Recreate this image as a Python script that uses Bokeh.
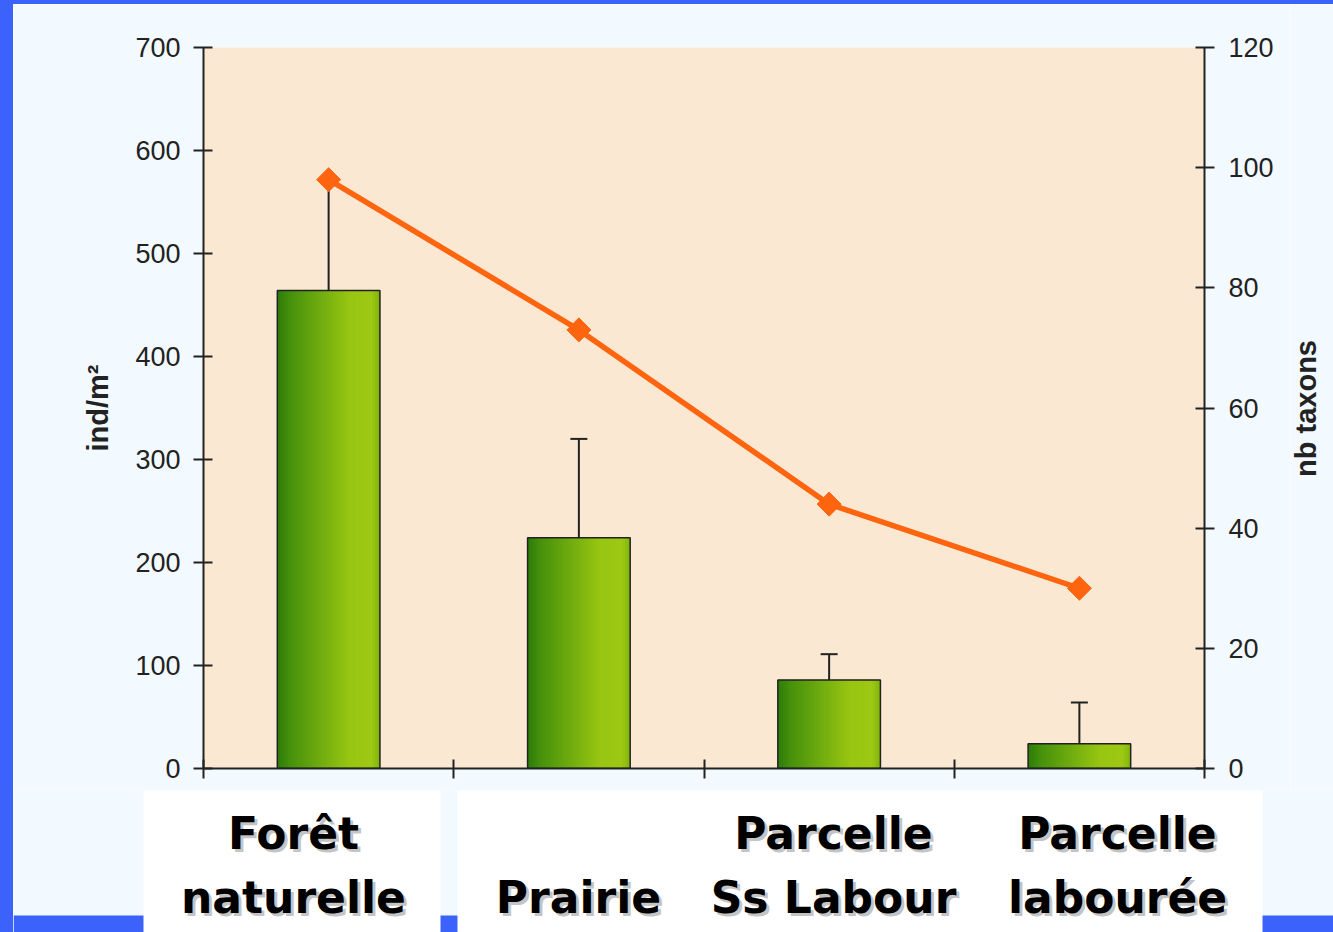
import numpy as np
from bokeh.plotting import figure
from bokeh.layouts import row, column
from bokeh.models import (Range1d, LinearAxis, FixedTicker, ColumnDataSource,
                          Whisker, TeeHead, Spacer)
from bokeh.core.properties import value
from bokeh.embed import file_html
from bokeh.resources import INLINE

# ---------------- data ----------------
categories = ["Forêt naturelle", "Prairie", "Parcelle Ss Labour", "Parcelle labourée"]
label_line1 = ["Forêt", "", "Parcelle", "Parcelle"]
label_line2 = ["naturelle", "Prairie", "Ss Labour", "labourée"]
density = [464, 224, 86, 24]            # ind/m²
density_upper = [573, 320, 111, 64]     # upper end of error bar
taxa = [98, 73, 44, 30]                 # nb taxons
left_ticks = [0, 100, 200, 300, 400, 500, 600, 700]
right_ticks = [0, 20, 40, 60, 80, 100, 120]
left_title = "ind/m²"
right_title = "nb taxons"

# ---------------- styling ----------------
BLUE = "#3b62fb"
LIGHT = "#f3faff"
BEIGE = "#fae8d3"
ORANGE = "#ff650f"
INK = "#222222"
FONT = "Liberation Sans"

p = figure(width=1277, height=786, output_backend="svg", toolbar_location=None,
           x_range=Range1d(0, len(categories)), y_range=Range1d(0, 700),
           min_border_left=190, min_border_right=86, min_border_top=43,
           min_border_bottom=22)
p.frame_align = False
p.extra_y_ranges = {"taxa": Range1d(0, 120)}
p.background_fill_color = BEIGE
p.border_fill_color = LIGHT
p.outline_line_color = None
p.grid.visible = False

x_idx = np.arange(len(categories)) + 0.5

# gradient bars made of thin slices
bar_w = 0.41
n_sl = 40
stops = [(0.0, (44, 124, 10)), (0.12, (70, 145, 12)), (0.7, (152, 198, 18)),
         (0.92, (158, 201, 20)), (1.0, (128, 180, 14))]
def grad(t):
    for (t0, c0), (t1, c1) in zip(stops[:-1], stops[1:]):
        if t0 <= t <= t1:
            f = (t - t0) / (t1 - t0)
            return "#%02x%02x%02x" % tuple(int(a + (b - a) * f) for a, b in zip(c0, c1))
    return "#%02x%02x%02x" % stops[-1][1]

sw = bar_w / n_sl
for i in range(n_sl):
    off = -bar_w / 2 + sw * (i + 0.5)
    w = sw * (1.6 if i < n_sl - 1 else 1.0)
    p.vbar(x=x_idx + off + (w - sw) / 2, top=density, width=w, bottom=0,
           fill_color=grad((i + 0.5) / n_sl), line_color=None)
p.vbar(x=x_idx, top=density, width=bar_w, bottom=0, fill_alpha=0,
       line_color=INK, line_width=1.5)

# error bars (upper only)
err_src = ColumnDataSource(dict(x=x_idx, lower=density, upper=density_upper))
p.add_layout(Whisker(base="x", lower="lower", upper="upper", source=err_src,
                     lower_head=None,
                     upper_head=TeeHead(size=17, line_color=INK, line_width=2),
                     line_color=INK, line_width=2))

# taxa line on right axis
p.line(x=x_idx, y=taxa, y_range_name="taxa", line_color=ORANGE, line_width=5.5)
p.scatter(x=x_idx, y=taxa, y_range_name="taxa", marker="square", angle=np.pi / 4,
          size=17, fill_color=ORANGE, line_color=ORANGE)

# axes
def style_axis(ax):
    ax.axis_line_color = INK
    ax.axis_line_width = 2
    ax.major_tick_line_color = INK
    ax.major_tick_line_width = 2
    ax.minor_tick_line_color = None
    ax.major_tick_in = 9
    ax.major_tick_out = 10
    ax.major_label_text_font = FONT
    ax.major_label_text_font_size = "27px"
    ax.major_label_text_color = INK
    ax.axis_label_text_font = FONT
    ax.axis_label_text_font_style = "bold"
    ax.axis_label_text_font_size = "29px"
    ax.axis_label_text_color = INK

ly = p.yaxis[0]
style_axis(ly)
ly.ticker = FixedTicker(ticks=left_ticks)
ly.axis_label = left_title
ly.major_label_standoff = 13
ly.axis_label_standoff = 18

ry = LinearAxis(y_range_name="taxa", ticker=FixedTicker(ticks=right_ticks))
style_axis(ry)
ry.major_label_standoff = 14
p.add_layout(ry, "right")

bx = p.xaxis[0]
style_axis(bx)
bx.ticker = FixedTicker(ticks=list(range(len(categories) + 1)))
bx.major_label_text_font_size = "0px"
bx.major_label_standoff = 0
bx.major_label_overrides = {i: "" for i in range(len(categories) + 1)}

# ---------------- right title strip (reads bottom to top) ----------------
r = figure(width=43, height=786, output_backend="svg", toolbar_location=None,
           x_range=Range1d(1290, 1333), y_range=Range1d(790, 4),
           min_border=0, min_border_left=0, min_border_right=0,
           min_border_top=0, min_border_bottom=0)
r.frame_align = False
r.axis.visible = False
r.grid.visible = False
r.outline_line_color = None
r.background_fill_color = LIGHT
r.border_fill_color = LIGHT
r.text(x=[1305], y=[408], text=[right_title], angle=np.pi / 2,
       text_align="center", text_baseline="middle", text_font=value(FONT),
       text_font_style="bold", text_font_size="29px", text_color=INK)

# ---------------- bottom strip with category labels (page pixel coordinates) ----------------
q = figure(width=1320, height=142, output_backend="svg", toolbar_location=None,
           x_range=Range1d(13, 1333), y_range=Range1d(932, 790),
           min_border=0, min_border_left=0, min_border_right=0,
           min_border_top=0, min_border_bottom=0)
q.frame_align = False
q.axis.visible = False
q.grid.visible = False
q.outline_line_color = None
q.background_fill_color = LIGHT
q.border_fill_color = LIGHT
q.quad(left=[13], right=[1333], top=[915], bottom=[932], fill_color=BLUE, line_color=None)
q.quad(left=[143, 457], right=[440, 1262], top=[790, 790], bottom=[932, 932],
       fill_color="white", line_color=None)

label_x = [293, 578, 833, 1117]
xs1 = [x for x, t in zip(label_x, label_line1) if t]
t1 = [t for t in label_line1 if t]
for col, alpha, d in [("#8a8a8a", 0.5, 3), ("#000000", 1.0, 0)]:
    kw = dict(text_align="center", text_baseline="middle",
              text_font=value("DejaVu Sans"), text_font_style="bold",
              text_font_size="44px", text_color=col, text_alpha=alpha,
              x_offset=d, y_offset=d)
    q.text(x=xs1, y=[833] * len(xs1), text=t1, **kw)
    q.text(x=label_x, y=[897] * len(label_x), text=label_line2, **kw)

left_bar = Spacer(width=13, height=932, styles={"background-color": BLUE})
top_bar = Spacer(width=1320, height=4, styles={"background-color": BLUE})
layout = row(left_bar,
             column(top_bar, row(p, r, spacing=0), q, spacing=0),
             spacing=0)

open("out.html", "w").write(file_html(layout, INLINE))
